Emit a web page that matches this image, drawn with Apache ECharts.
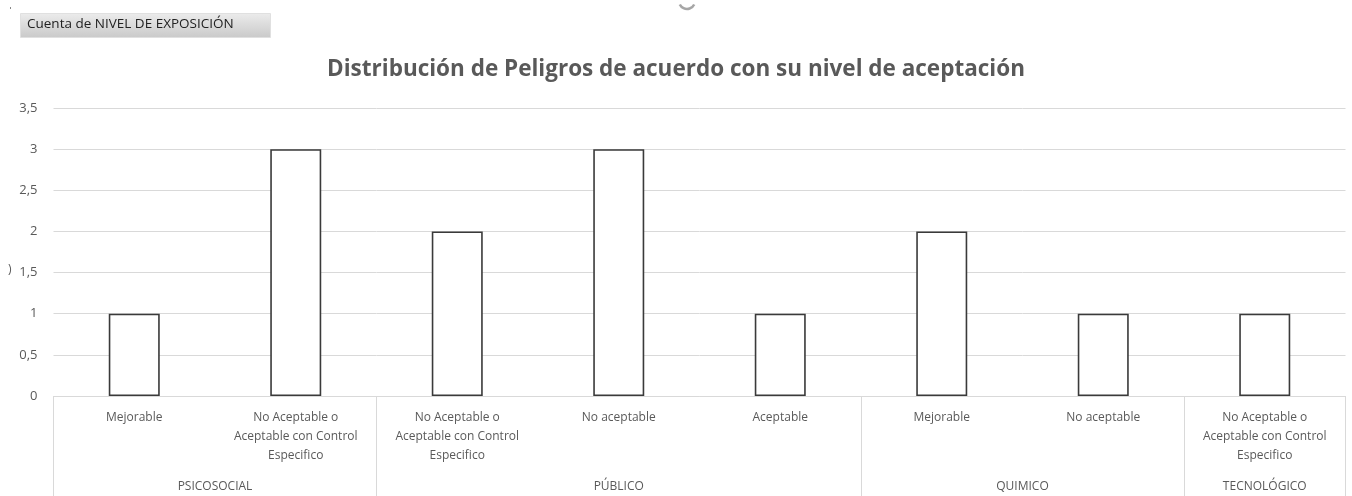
<!DOCTYPE html>
<html>
<head>
<meta charset="utf-8">
<script src="https://cdn.jsdelivr.net/npm/echarts@6/dist/echarts.min.js"></script>
<style>html,body{margin:0;padding:0;background:#fff}#c{width:1352px;height:496px}</style>
</head>
<body>
<div id="c"></div>
<script>
const titleText = 'Distribución de Peligros de acuerdo con su nivel de aceptación';
const fieldButton = 'Cuenta de NIVEL DE EXPOSICIÓN';
const categories = [
  'Mejorable',
  'No Aceptable o\nAceptable con Control\nEspecifico',
  'No Aceptable o\nAceptable con Control\nEspecifico',
  'No aceptable',
  'Aceptable',
  'Mejorable',
  'No aceptable',
  'No Aceptable o\nAceptable con Control\nEspecifico'
];
const values = [1, 3, 2, 3, 1, 2, 1, 1];
const groupNames = ['PSICOSOCIAL', 'PÚBLICO', 'QUIMICO', 'TECNOLÓGICO'];
const groupSizes = [2, 3, 2, 1];
const yTicks = [0, 0.5, 1, 1.5, 2, 2.5, 3, 3.5];

// Build half-step axis (boundaryGap false) for group labels and separators
const total = groupSizes.reduce((a, b) => a + b, 0);
const halfCats = new Array(total * 2 + 1).fill('');
const boundaryIdx = new Set([0]);
const labelIdx = new Set();
let pos = 0;
groupSizes.forEach((s, i) => {
  const center = pos * 2 + s;
  halfCats[center] = groupNames[i];
  labelIdx.add(center);
  pos += s;
  boundaryIdx.add(pos * 2);
});

const chart = echarts.init(document.getElementById('c'), null, {renderer: 'canvas'});
const font = '"Open Sans", "DejaVu Sans", sans-serif';
chart.setOption({
  animation: false,
  title: {
    text: titleText,
    left: 'center',
    top: 53,
    textStyle: {fontFamily: font, fontSize: 22.5, fontWeight: 'bold', color: '#595959'}
  },
  grid: {left: 53.5, right: 6.5, top: 108, bottom: 100, containLabel: false},
  xAxis: [
    {
      type: 'category',
      data: categories,
      axisLine: {show: true, lineStyle: {color: '#d9d9d9', width: 1}},
      axisTick: {show: false},
      axisLabel: {
        interval: 0,
        margin: 12,
        fontFamily: font,
        fontSize: 12,
        lineHeight: 19,
        color: '#595959'
      }
    },
    {
      type: 'category',
      position: 'bottom',
      boundaryGap: false,
      data: halfCats,
      axisLine: {show: false},
      axisTick: {
        show: true,
        inside: false,
        length: 100,
        interval: (i) => boundaryIdx.has(i),
        lineStyle: {color: '#d9d9d9', width: 1}
      },
      axisLabel: {
        interval: (i) => labelIdx.has(i),
        margin: 85,
        fontFamily: font,
        fontSize: 12,
        color: '#595959'
      }
    }
  ],
  yAxis: {
    type: 'value',
    min: yTicks[0],
    max: yTicks[yTicks.length - 1],
    interval: 0.5,
    axisLine: {show: false},
    axisTick: {show: false},
    splitLine: {lineStyle: {color: '#d9d9d9', width: 1}},
    axisLabel: {
      margin: 16,
      fontFamily: font,
      fontSize: 13,
      color: '#595959',
      formatter: (v) => String(v).replace('.', ',')
    }
  },
  series: [{
    type: 'bar',
    xAxisIndex: 0,
    data: values,
    barWidth: 51,
    itemStyle: {color: '#ffffff', borderColor: '#3a3a3a', borderWidth: 1.6}
  }],
  graphic: [
    {
      type: 'rect',
      left: 20, top: 13,
      shape: {width: 250, height: 24},
      style: {
        fill: new echarts.graphic.LinearGradient(0, 0, 0, 1, [
          {offset: 0, color: '#ececec'},
          {offset: 1, color: '#c9c9c9'}
        ]),
        stroke: '#e0e0e0', lineWidth: 1
      }
    },
    {
      type: 'text',
      left: 27, top: 17,
      style: {text: fieldButton, font: '13.5px ' + font, fill: '#222'}
    },
    {
      type: 'arc',
      shape: {cx: 687, cy: 1, r: 8, startAngle: 0.45, endAngle: Math.PI - 0.45},
      style: {stroke: '#a6a6a6', lineWidth: 2.5, fill: null}
    },
    {
      type: 'text',
      left: 8, top: 264,
      style: {text: ')', font: '12px ' + font, fill: '#595959'}
    },
    {
      type: 'rect',
      left: 10, top: 7,
      shape: {width: 1, height: 2},
      style: {fill: '#888'}
    }
  ]
});
</script>
</body>
</html>
